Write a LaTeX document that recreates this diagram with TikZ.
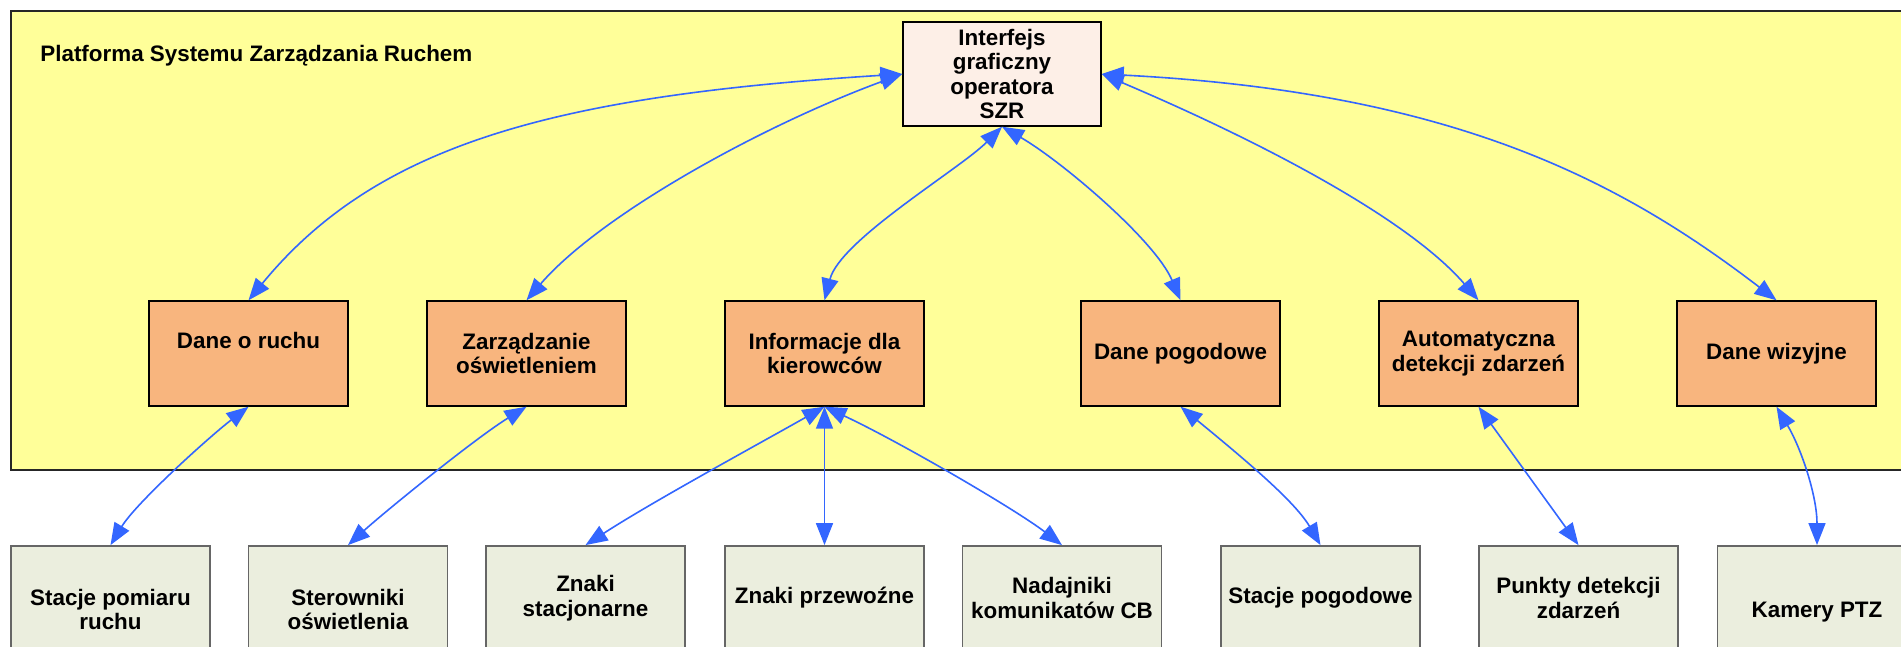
\documentclass[tikz,border=0pt]{standalone}
\usepackage{fontspec}
\setmainfont{Liberation Sans}
\usetikzlibrary{arrows.meta}
\definecolor{platyellow}{RGB}{255,255,153}
\definecolor{szrfill}{RGB}{253,239,231}
\definecolor{midfill}{RGB}{248,181,126}
\definecolor{botfill}{RGB}{235,238,222}
\definecolor{linkblue}{RGB}{51,102,255}
\newcommand\lnstrut{\rule[-2.625pt]{0pt}{12.25pt}}
\begin{document}
\begin{tikzpicture}[x=0.5pt,y=-0.5pt,
  txt/.style={font=\bfseries\fontsize{11.2}{12.25}\selectfont, align=center, inner sep=0pt},
  box/.style={txt, draw=black, line width=0.7pt, minimum width=99.5pt, minimum height=52.5pt},
  szrbox/.style={box, fill=szrfill, minimum width=99pt, minimum height=52pt},
  midbox/.style={box, fill=midfill},
  botbox/.style={box, fill=botfill, draw=black!60, line width=0.9pt, minimum height=52pt},
  platbox/.style={draw=black!85, line width=0.9pt, fill=platyellow, inner sep=0pt, anchor=north west, minimum width=975pt, minimum height=229.5pt},
  link/.style={draw=linkblue, line width=0.8pt, >={Triangle[length=11pt,width=8.5pt]}, <->},
]
\useasboundingbox (0,0) rectangle (1901,647);
\clip (0,0) rectangle (1901,647);
\fill[white] (0,0) rectangle (1901,647);

% platform container
\node[platbox] (platform) at (10,10) {};
\node[txt, anchor=base west] (platlabel) at (40,62) {Platforma Systemu Zarządzania Ruchem};

% operator interface
\node[szrbox] (szr) at (1002,74) {Interfejs\\graficzny\\operatora\\SZR};

% middle row
\node[midbox] (dor)  at (248.5,353.5)  {Dane o ruchu\lnstrut\\\lnstrut};
\node[midbox] (zar)  at (526.5,353.5)  {Zarządzanie\\oświetleniem};
\node[midbox] (inf)  at (824.5,353.5)  {Informacje dla\\kierowców};
\node[midbox] (dpog) at (1180.5,353.5) {Dane pogodowe};
\node[midbox] (auto) at (1478.5,353.5) {Automatyczna\\detekcji zdarzeń};
\node[midbox] (dwiz) at (1776.5,353.5) {Dane wizyjne};

% bottom row
\node[botbox] (stp)   at (110.5,598)  {\lnstrut\\Stacje pomiaru\lnstrut\\ruchu\lnstrut};
\node[botbox] (ster)  at (348,598)    {\lnstrut\\Sterowniki\lnstrut\\oświetlenia\lnstrut};
\node[botbox] (zst)   at (585.5,598)  {Znaki\\stacjonarne};
\node[botbox] (zprz)  at (824.5,598)  {Znaki przewoźne};
\node[botbox] (nad)   at (1062,598)   {Nadajniki\\komunikatów CB};
\node[botbox] (stpog) at (1320.5,598) {Stacje pogodowe};
\node[botbox] (pkt)   at (1578.5,598) {Punkty detekcji\\zdarzeń};
\node[botbox] (kam)   at (1817,598)   {\lnstrut\\Kamery PTZ\lnstrut};

% interface <-> middle row
\draw[link] (szr.west) .. controls (552,96) and (376,145) .. (dor.north);
\draw[link] (szr.west) .. controls (761,126) and (600,215) .. (zar.north);
\draw[link] (szr.south) .. controls (960,169) and (840,240) .. (inf.north);
\draw[link] (szr.south) .. controls (1060,160) and (1155,240) .. (dpog.north);
\draw[link] (szr.east) .. controls (1248,136) and (1405,215) .. (auto.north);
\draw[link] (szr.east) .. controls (1451,92) and (1618,179) .. (dwiz.north);

% middle row <-> bottom row
\draw[link] (dor.south) .. controls (209,437) and (136,503) .. (stp.north);
\draw[link] (zar.south) .. controls (475.5,438) and (384.5,512) .. (ster.north);
\draw[link] (inf.south) .. controls (755,446) and (652,502) .. (zst.north);
\draw[link] (inf.south) -- (zprz.north);
\draw[link] (inf.south) .. controls (898,441) and (1015,509) .. (nad.north);
\draw[link] (dpog.south) .. controls (1250,463.6) and (1295.5,502.5) .. (stpog.north);
\draw[link] (auto.south) -- (pkt.north);
\draw[link] (dwiz.south) .. controls (1801.5,449) and (1817,496) .. (kam.north);
\end{tikzpicture}
\end{document}
